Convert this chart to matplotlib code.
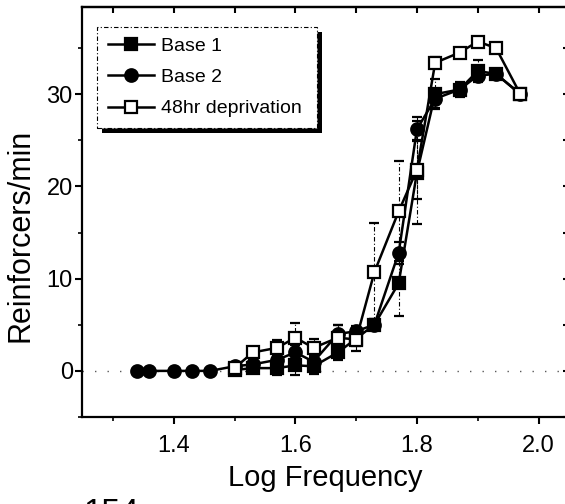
import matplotlib
matplotlib.use("Agg")
import matplotlib.pyplot as plt
from matplotlib.patches import Rectangle
from matplotlib.ticker import MultipleLocator

plt.rcParams["font.family"] = ["Liberation Sans Narrow", "DejaVu Sans Condensed", "Liberation Sans"]

# data
x_base1 = [1.50, 1.53, 1.57, 1.60, 1.63, 1.67, 1.70, 1.73, 1.77, 1.80, 1.83, 1.87, 1.90, 1.93, 1.97]
y_base1 = [0.1, 0.3, 0.3, 0.6, 0.5, 2.0, 3.5, 5.0, 9.5, 21.5, 30.0, 30.5, 32.5, 32.2, 30.0]
e_base1 = [0.3, 0.5, 0.8, 1.0, 0.8, 0.8, 0.8, 0.6, 3.5, 5.6, 1.6, 0.8, 1.2, 0.5, 0.5]

x_base2 = [1.34, 1.36, 1.40, 1.43, 1.46, 1.50, 1.53, 1.57, 1.60, 1.63,
           1.67, 1.70, 1.73, 1.77, 1.80, 1.83, 1.87, 1.90, 1.93, 1.97]
y_base2 = [0, 0, 0, 0, 0, 0.5, 0.7, 1.2, 2.0, 1.0,
           4.0, 4.3, 5.0, 12.8, 26.2, 29.5, 30.5, 32.0, 32.2, 30.0]
e_base2 = [0, 0, 0, 0, 0, 0.3, 0.5, 0.6, 0.8, 0.6,
           1.0, 0.6, 0.6, 1.2, 1.3, 1.0, 0.6, 0.6, 0.5, 0.5]

x_depr = [1.50, 1.53, 1.57, 1.60, 1.63, 1.67, 1.70, 1.73, 1.77, 1.80, 1.83, 1.87, 1.90, 1.93, 1.97]
y_depr = [0.3, 2.0, 2.5, 3.6, 2.5, 3.6, 3.4, 10.7, 17.3, 21.8, 33.4, 34.5, 35.7, 35.0, 30.0]
e_depr = [0.3, 0.6, 0.8, 1.6, 1.0, 1.4, 1.2, 5.3, 5.4, 3.2, 0.6, 0.5, 0.5, 0.5, 0.5]

series_labels = ["Base 1", "Base 2", "48hr deprivation"]
x_ticks = [1.4, 1.6, 1.8, 2.0]
x_ticklabels = ["1.4", "1.6", "1.8", "2.0"]
y_ticks = [0, 10, 20, 30]

fig = plt.figure(figsize=(5.65, 5.04), dpi=100)
ax = fig.add_axes([0.146, 0.1726, 0.861, 0.8145])


def draw(x, y, err, marker, face, z):
    line, caps, bars = ax.errorbar(
        x, y, yerr=err, fmt="-", marker=marker, color="black", mfc=face, mec="black",
        ms=9, mew=1.6, lw=1.8, ecolor="black", elinewidth=0.8, capsize=3.5,
        capthick=0.8, zorder=z,
    )
    for b in bars:
        b.set_linestyle((0, (4, 2, 1, 2)))
    return line


h1 = draw(x_base1, y_base1, e_base1, "s", "black", 3)
h2 = draw(x_base2, y_base2, e_base2, "o", "black", 4)
h3 = draw(x_depr, y_depr, e_depr, "s", "white", 5)

ax.axhline(0, color="0.35", lw=1.0, ls=(0, (1, 8)), zorder=1)

ax.set_xlim(1.25, 2.05)
ax.set_ylim(-5, 39.5)
ax.set_xticks(x_ticks)
ax.set_xticklabels(x_ticklabels)
ax.xaxis.set_minor_locator(MultipleLocator(0.1))
ax.set_yticks(y_ticks)
ax.yaxis.set_minor_locator(MultipleLocator(5))

for s in ax.spines.values():
    s.set_linewidth(1.6)

ax.tick_params(which="major", direction="out", length=5, width=1.5, labelsize=17)
ax.tick_params(which="minor", direction="out", length=3, width=1.2)
ax.tick_params(axis="x", which="major", pad=8)
ax.tick_params(axis="y", which="major", pad=2)

top = ax.secondary_xaxis("top")
top.set_xticks(x_ticks)
top.xaxis.set_minor_locator(MultipleLocator(0.1))
top.tick_params(which="both", direction="in", length=4, width=1.5, labeltop=False)
top.spines["top"].set_linewidth(1.6)

right = ax.secondary_yaxis("right")
right.set_yticks(y_ticks)
right.yaxis.set_minor_locator(MultipleLocator(5))
right.tick_params(which="both", direction="in", length=4, width=1.5, labelright=False)
right.spines["right"].set_linewidth(1.6)

ax.set_xlabel("Log Frequency", fontsize=21, labelpad=5)
ax.set_ylabel("Reinforcers/min", fontsize=22)
ax.yaxis.set_label_coords(-0.096, 0.443)

leg = ax.legend(
    handles=[h1, h2, h3], labels=series_labels, loc="upper left",
    bbox_to_anchor=(0.03, 0.951, 0.452, 0.0), mode="expand", fontsize=14,
    handlelength=2.4, handletextpad=0.35, labelspacing=0.7, borderpad=0.55,
    fancybox=False, framealpha=1, borderaxespad=0,
)
frame = leg.get_frame()
frame.set_edgecolor("black")
frame.set_linewidth(0.8)
frame.set_linestyle((0, (4, 2, 1, 2)))
leg.set_zorder(10)

# black drop shadow behind the legend box
fig.canvas.draw()
bb = leg.get_window_extent().transformed(ax.transAxes.inverted())
dx, dy = 5 / (0.861 * 565), 5 / (0.8145 * 504)
ax.add_patch(Rectangle((bb.x0 + dx, bb.y0 - dy), bb.width, bb.height,
                       transform=ax.transAxes, facecolor="black", edgecolor="none", zorder=9))

fig.text(0.147, 0.012, "154", fontsize=24, va="top", ha="left")

fig.savefig("out.png", dpi=100)
